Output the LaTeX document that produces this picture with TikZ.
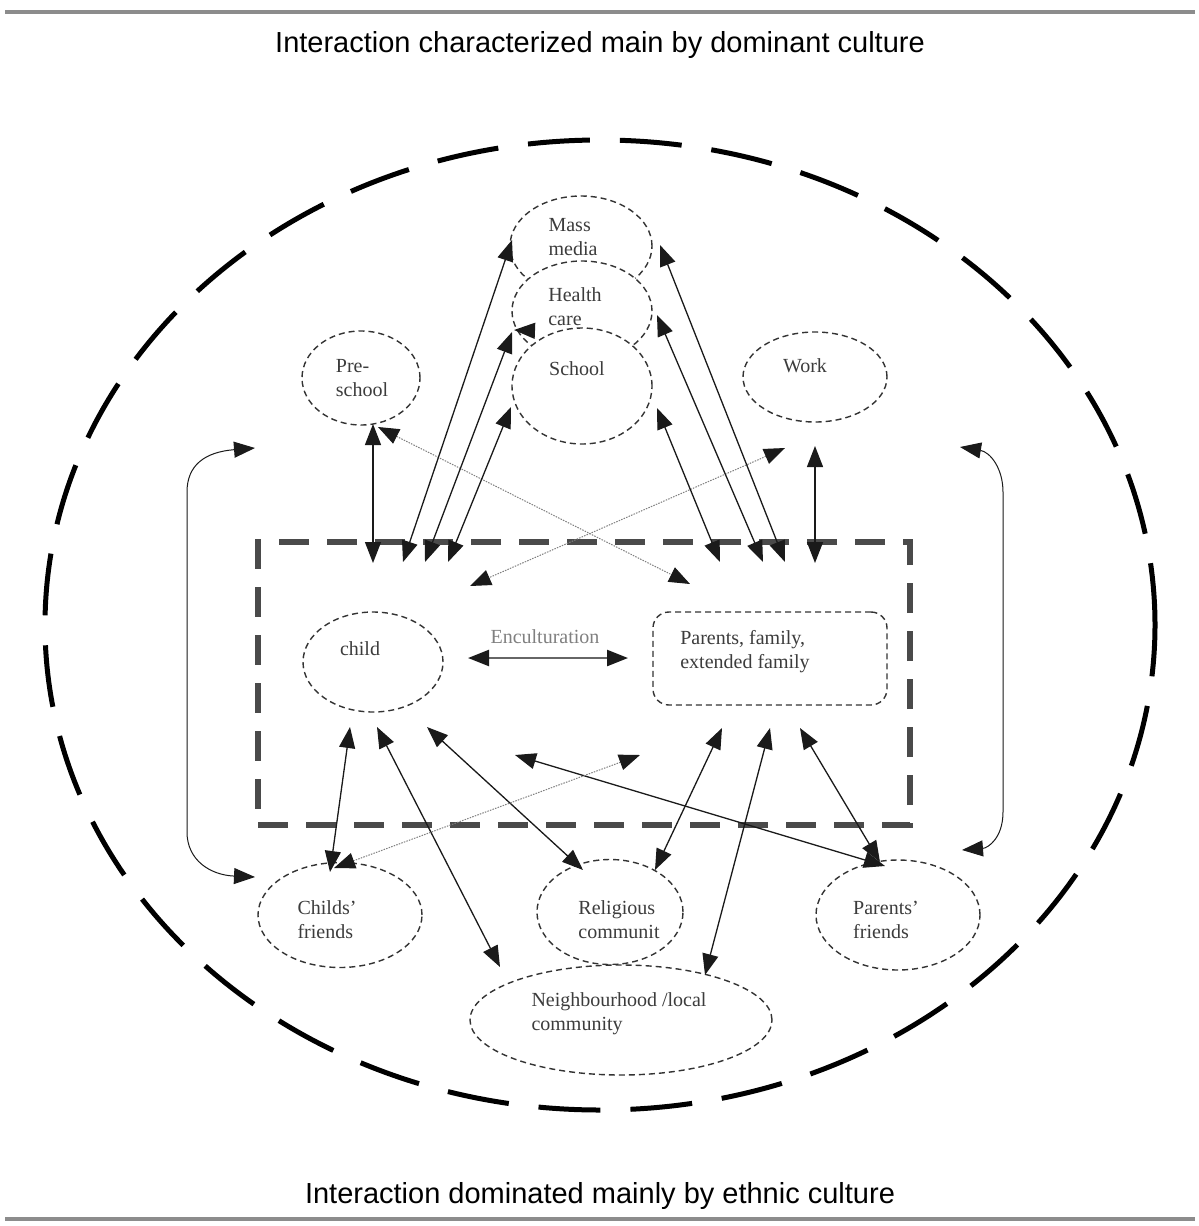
\documentclass[tikz,border=0pt]{standalone}
\usepackage{fontspec}
\setmainfont{Liberation Serif}
\newfontfamily\capfont{Liberation Sans}
\usetikzlibrary{shapes.geometric,arrows.meta}
\definecolor{ink}{HTML}{1A1A1A}
\definecolor{txt}{HTML}{3C3C3C}
\definecolor{ring}{HTML}{333333}
\definecolor{rectc}{HTML}{4A4A4A}
\definecolor{rulec}{HTML}{8C8C8C}
\tikzset{
  bub/.style={ellipse, draw=ring, fill=white, line width=1.4pt, dash pattern=on 6pt off 4pt, inner sep=0pt},
  lbl/.style={font=\fontsize{20}{24}\selectfont, text=txt, align=left, inner sep=0pt},
  captxt/.style={font=\capfont\fontsize{29}{34}\selectfont, text=black, inner sep=0pt},
  bighead/.tip={Triangle[length=21pt,width=16pt,color=ink]},
  arr/.style={bighead-bighead, line width=1.3pt, draw=ink},
  dotarr/.style={bighead-bighead, line width=1pt, draw=gray, dash pattern=on 1.5pt off 1.2pt},
}
\begin{document}
\begin{tikzpicture}[x=1pt,y=-1pt]
\useasboundingbox (0,0) rectangle (1199,1226);
\fill[white] (0,0) rectangle (1199,1226);
% rules and captions
\coordinate (rtl) at (5,12); \coordinate (rtr) at (1195,12);
\coordinate (rbl) at (5,1219); \coordinate (rbr) at (1195,1219);
\draw[rulec, line width=4pt] (rtl) -- (rtr);
\draw[rulec, line width=4pt] (rbl) -- (rbr);
\node[captxt] (capT) at (600,45) {Interaction characterized main by dominant culture};
\node[captxt] (capB) at (600,1196) {Interaction dominated mainly by ethnic culture};
% outer ellipse and inner rectangle
\node[ellipse, draw=black, line width=5pt, dash pattern=on 62pt off 30pt, minimum width=1110pt, minimum height=970pt, inner sep=0pt] (outer) at (600,625) {};
\node[draw=rectc, line width=6pt, dash pattern=on 30pt off 18pt, minimum width=652pt, minimum height=283pt, inner sep=0pt] (ctx) at (584,683.5) {};
% bubbles
\node[bub, minimum width=142pt, minimum height=100pt] (mass) at (581,246) {};
\node[bub, minimum width=140pt, minimum height=100pt] (health) at (582,311) {};
\node[bub, minimum width=140pt, minimum height=116pt] (school) at (582,386) {};
\node[bub, minimum width=118pt, minimum height=94pt] (pre) at (361,378) {};
\node[bub, minimum width=144pt, minimum height=90pt] (work) at (815,377) {};
\node[bub, minimum width=140pt, minimum height=100pt] (child) at (373,662) {};
\node[draw=ring, line width=1.4pt, dash pattern=on 6pt off 4pt, rounded corners=16pt, minimum width=234pt, minimum height=93pt, inner sep=0pt] (par) at (770,658.5) {};
\node[bub, minimum width=164pt, minimum height=105pt] (cf) at (340,915) {};
\node[bub, minimum width=146pt, minimum height=105pt] (rel) at (610,912) {};
\node[bub, minimum width=164pt, minimum height=110pt] (pf) at (898,915) {};
\node[bub, minimum width=302pt, minimum height=110pt] (nb) at (621,1020) {};
% labels
\node[lbl] (massT) at (573,237) {Mass\\media};
\node[lbl] (healthT) at (575,307) {Health\\care};
\node[lbl] (schoolT) at (577,369) {School};
\node[lbl] (preT) at (362,378) {Pre-\\school};
\node[lbl] (workT) at (805,366) {Work};
\node[lbl] (childT) at (360,649) {child};
\node[lbl] (parT) at (745,652) {Parents, family,\\extended family};
\node[lbl, text=gray] (encT) at (545,637) {Enculturation};
\node[lbl] (cfT) at (327,920) {Childs'\\friends};
\node[lbl] (relT) at (619,920) {Religious\\communit};
\node[lbl] (pfT) at (886,920) {Parents'\\friends};
\node[lbl] (nbT) at (619,1014) {Neighbourhood /local\\community};
% connector end points
\coordinate (preB) at (373,424); \coordinate (preC) at (373,563);
\coordinate (preD) at (378,427); \coordinate (parU) at (690,584);
\coordinate (workD) at (785,448); \coordinate (chU) at (470,586);
\coordinate (workB) at (815,446); \coordinate (workC) at (815,563);
\coordinate (l1) at (403,562); \coordinate (massL) at (512,240);
\coordinate (l2) at (425,562); \coordinate (healthL) at (512,332);
\coordinate (l3) at (448,562); \coordinate (schoolL) at (511,407);
\coordinate (r1) at (720,562); \coordinate (schoolR) at (657,408);
\coordinate (r2) at (763,562); \coordinate (healthR) at (657,315);
\coordinate (r3) at (785,562); \coordinate (massR) at (660,245);
\coordinate (encL) at (468,658); \coordinate (encR) at (628,658);
\coordinate (b1) at (350,727); \coordinate (cfA) at (330,872);
\coordinate (b2) at (377,727); \coordinate (nbA) at (500,967);
\coordinate (b3) at (427,727); \coordinate (relA) at (583,870);
\coordinate (b4) at (515,755); \coordinate (pfA) at (885,866);
\coordinate (b5) at (640,755); \coordinate (cfB) at (334,868);
\coordinate (b6) at (722,728); \coordinate (relB) at (655,870);
\coordinate (b7) at (770,728); \coordinate (nbB) at (705,975);
\coordinate (b8) at (800,728); \coordinate (pfB) at (880,862);
\coordinate (sideLT) at (255,448); \coordinate (sideLB) at (255,877);
\coordinate (sideRT) at (960,447); \coordinate (sideRB) at (962,850);
\coordinate (strayA) at (540,331); \coordinate (strayB) at (514,330);
% top connectors
\draw[arr] (preB) -- (preC);
\draw[dotarr] (preD) -- (parU);
\draw[dotarr] (workD) -- (chU);
\draw[arr] (workB) -- (workC);
\draw[arr] (l1) -- (massL);
\draw[arr] (l2) -- (healthL);
\draw[arr] (l3) -- (schoolL);
\draw[-bighead, line width=1.2pt, draw=ink, shorten <=8pt] (strayA) -- (strayB);
\draw[arr] (r1) -- (schoolR);
\draw[arr] (r2) -- (healthR);
\draw[arr] (r3) -- (massR);
% enculturation
\draw[bighead-bighead, line width=2.4pt, draw=gray!80!black] (encL) -- (encR);
% bottom connectors
\draw[arr] (b1) -- (cfA);
\draw[arr] (b2) -- (nbA);
\draw[arr] (b3) -- (relA);
\draw[arr] (b4) -- (pfA);
\draw[dotarr] (b5) -- (cfB);
\draw[arr] (b6) -- (relB);
\draw[arr] (b7) -- (nbB);
\draw[arr] (b8) -- (pfB);
% side curved connectors
\draw[arr, line width=1pt] (sideLT) .. controls (205,452) and (187,465) .. (187,492) -- (187,832) .. controls (187,860) and (210,875) .. (sideLB);
\draw[arr, line width=1pt] (sideRT) .. controls (990,452) and (1003,468) .. (1003,492) -- (1003,812) .. controls (1003,838) and (988,848) .. (sideRB);
\end{tikzpicture}
\end{document}
